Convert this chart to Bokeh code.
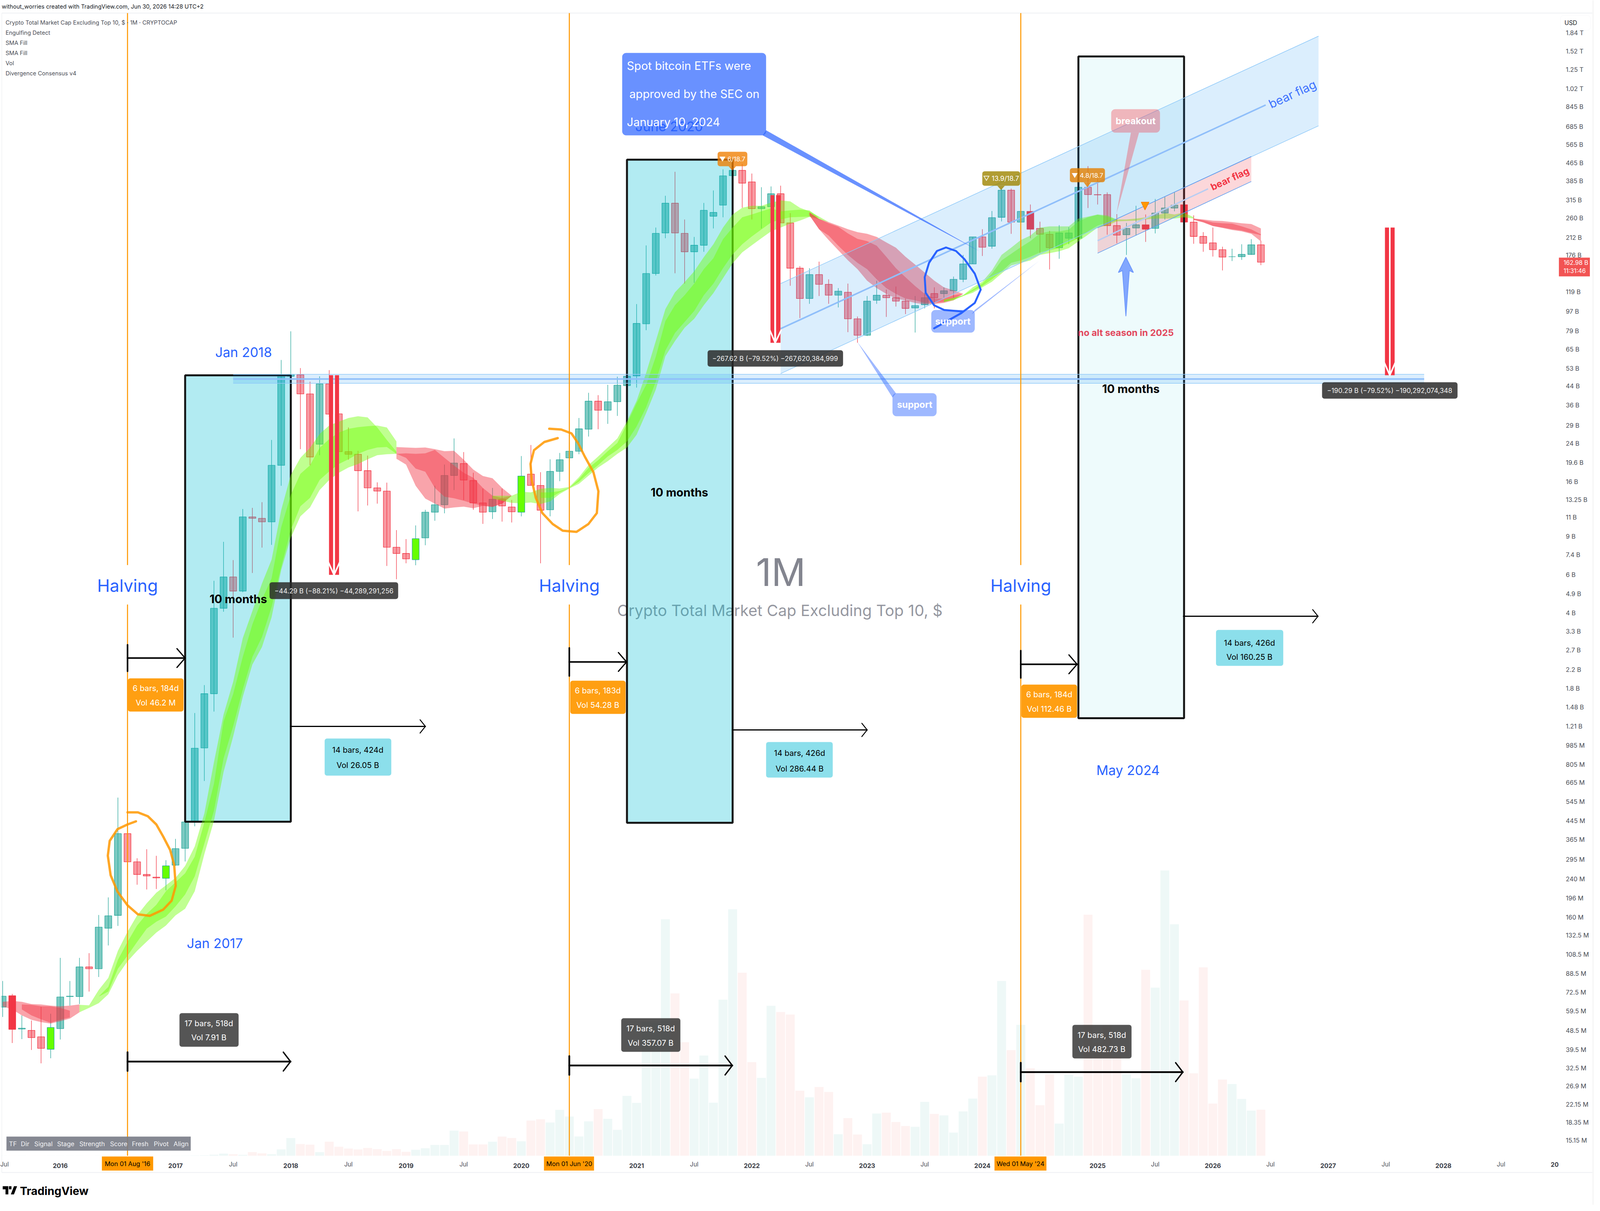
from bokeh.plotting import figure
from bokeh.embed import file_html
from bokeh.resources import INLINE
from bokeh.models import Range1d, LinearScale, FixedTicker, Label, BoxAnnotation
from bokeh.core.properties import value

# ---- monthly bars: index 0 = Jan 2016, values in billions of USD
month_index = list(range(-6, 126))
open_b = [.0620,.0699,.0492,.0485,.0453,.0397,.0494,.0693,.0693,.0948,.0930,.1427,.1635,.388,.288,.252,.245,.242,.278,.332,.439,.960,1.703,
          4.20,5.85,5.04,11.04,10.87,10.47,19.04,48.8,49.6,40.5,23.8,45.0,32.8,22.0,21.4,18.0,15.0,14.5,8.01,7.50,7.02,8.84,11.6,12.55,17.1,19.4,16.2,12.8,11.65,13.3,12.25,
          11.6,17.35,15.4,11.9,17.86,20.6,22.1,27.9,37.5,34.1,37.3,44.2,49.0,85.0,144.6,222,304,221,182,195,265,298,407,430,381,287,293,336,247,153,
          111,143,129,115,118.6,89.6,75.3,109,115,112,108,100.5,104,117,117,120.5,136,160,213,193,262,349,249,279,233,219,190,210,210,360,333,333,240,218,234,242,233,274,289,299,249,214,200,186,172.7,172.7,177,196]
high_b = [.0817,.0713,.0568,.0538,.0622,.0578,.1043,.0817,.1043,.1096,.1641,.1977,.568,.388,.299,.329,.307,.293,.367,.472,1.388,1.866,5.62,
          8.48,6.99,12.0,12.15,12.9,24.9,58.0,78.5,53.2,46.1,48.8,52.1,36.4,28.4,22.2,21.1,15.9,15.85,9.60,8.73,10.09,11.9,15.34,19.2,25.3,21.9,17.6,14.9,15.0,14.9,13.2,
          21.0,23.6,17.7,20.3,21.7,24.3,31.4,41.0,40.0,44.6,48.6,50.9,104.7,194.6,235,329,424,256,213,305,348,435,486,461,416,360,363,366,274,156.5,
          153,164,136,124,130,91.8,114,134,122,126,111,114,118,125,125,140,176,213,231,280,356,355,304,300,250,227,241,236,373,450,394,341,271,247,296,270,318,326,342,331,267.5,224,235,192,188,197,208,204.6]
low_b = [.0559,.0424,.0442,.0394,.0342,.0361,.0440,.0630,.0640,.0731,.0852,.1189,.1462,.251,.226,.215,.216,.213,.276,.289,.419,.677,1.41,
         4.05,3.08,4.98,6.10,7.98,8.21,15.34,34.2,22.6,19.04,21.2,31.8,21.9,20.2,11.7,12.45,12.7,6.57,5.71,6.76,6.62,8.18,10.6,11.46,14.66,13.2,11.9,10.25,10.8,10.5,10.4,
         11.1,15.4,6.76,11.1,16.1,19.7,21.4,25.8,27.9,29.5,32.1,36.7,43.3,79.4,141.6,210,145,130,131,182,233,262,367,290,256,233,256,247,127,90.3,
         105,114,105,101,77.8,69.6,74.6,105,91.4,102,94.2,77.5,100,100,112,112,132,160,174,188,251,220,233,210,180,151,169,197,189,289,300,218,199,176,216,202,221,256,279,156.5,198,182,173,149.4,165,167,176,158]
close_b = [.0696,.0490,.0496,.0449,.0401,.0500,.0690,.0696,.0948,.0930,.1444,.1628,.388,.288,.252,.248,.243,.276,.331,.439,.957,1.703,4.20,
           5.85,5.04,11.04,10.87,10.47,19.04,49.0,49.8,40.5,20.8,45.0,32.7,22.0,21.4,18.0,15.0,14.5,8.01,7.50,7.08,8.77,11.6,12.55,17.1,19.5,16.3,12.8,11.6,13.3,12.4,11.65,
           17.0,15.4,11.85,17.86,20.2,22.1,28.0,37.5,34.1,37.3,44.4,48.8,85.3,144.6,221,304,222,182,195,282,276,406,430,376,287,293,336,247,153,111,
           143,129,115,120,89.6,75.3,108,115,112,108,100,103,112,112,120.5,136,160,213,191,261,349,249,279,231,219,190,222,222,360,333,332,240,217,233,242,231,274,289,298,249,214,199,186,172,172.7,177,196,162.98]
volume_b = [.03,.03,.02,.02,.03,.03,.03,.02,.03,.03,.03,.05,.06,.05,.04,.03,.03,.03,.04,.05,.08,.10,.25,
            .51,.36,.22,.87,.58,.36,1.52,4.26,2.82,2.67,.87,3.39,2.17,1.73,1.52,1.88,1.59,1.16,1.59,.94,1.44,1.81,2.60,2.60,6.06,5.85,2.74,2.74,3.39,4.62,4.26,
            3.49,8.49,8.79,8.01,11.08,9.45,4.64,8.31,11.26,8.91,6.26,14.45,12.76,32.3,32.1,57.1,39.2,27.4,18.6,24.2,12.8,37.7,59.5,44.2,22.6,18.8,36.2,34.7,34.1,15.7,
            14.1,16.6,15.4,5.18,9.09,5.12,2.77,10.2,10.4,8.13,7.16,6.98,13.0,10.1,9.75,5.60,10.7,13.8,19.1,19.4,42.2,25.5,31.6,21.1,12.2,19.7,7.77,19.6,19.1,58.2,27.3,31.5,24.0,19.7,18.7,44.9,40.6,68.9,55.9,37.5,19.9,45.5,12.6,18.4,17.3,13.7,10.9,11.1]
engulf_down = [-5, 101, 113, 117]
engulf_up = [-1, 11, 37, 48]

# ---- SMA fills (outer and inner bands)
red1_m = list(range(-6, 3))
red1_otop = [.0656,.0662,.0656,.0640,.0638,.0630,.0625,.0630,.0638]
red1_obot = [.0625,.0605,.0568,.0542,.0529,.0521,.0534,.0549,.0587]
red1_im = list(range(-4, 2))
red1_itop = [.0638,.0635,.0625,.0625,.0615,.0597]
red1_ibot = [.0605,.0568,.0545,.0525,.0542,.0556]
green1_m = list(range(2, 36))
green1_otop = [.0635,.0632,.0743,.0844,.1124,.1374,.1635,.1858,.2077,.2246,.243,.276,.339,.480,.825,1.366,1.93,3.06,4.08,5.46,7.02,11.85,17.2,20.6,22.9,26.5,29.0,30.2,31.4,32.0,31.6,28.4,24.9,22.0]
green1_obot = [.0587,.0615,.0646,.0710,.0869,.1005,.1124,.1239,.1363,.1468,.1635,.1754,.211,.312,.444,.744,1.084,1.648,2.32,2.79,3.82,6.30,8.87,11.1,12.2,14.66,16.3,17.6,18.6,19.3,20.3,21.2,21.4,21.5]
green1_im = list(range(4, 36))
green1_itop = [.0693,.0768,.1021,.1235,.1468,.1661,.1827,.211,.232,.255,.304,.437,.657,1.269,1.697,2.51,3.54,4.61,5.76,9.88,13.9,17.4,19.04,22.9,25.1,26.9,28.0,28.5,28.8,29.0,28.4,24.5]
green1_ibot = [.0693,.0731,.0930,.1069,.1235,.1421,.1529,.1615,.1797,.204,.247,.349,.494,.859,1.206,1.78,2.51,3.10,4.26,6.49,9.60,12.35,13.5,16.3,17.86,19.3,20.3,21.5,22.4,23.0,23.1,21.5]
red2_m = list(range(35, 48))
red2_otop = [23.1,23.0,22.9,23.0,22.6,22.1,22.2,20.2,18.2,17.0,16.6,15.0,13.8]
red2_itop = [21.5,21.6,21.5,21.6,22.4,20.6,19.0,17.6,16.7,15.0,13.8,13.5,13.8]
red2_ibot = [21.5,20.6,18.4,17.8,15.0,13.66,13.44,13.1,12.7,12.45,12.3,12.7,13.8]
red2_obot = [20.4,19.2,15.34,13.4,12.7,12.05,12.2,12.3,12.1,12.4,12.25,12.7,13.8]
green2_m = list(range(45, 81))
green2_otop = [13.8,13.8,13.8,14.4,14.3,14.85,15.0,14.9,15.15,16.8,19.1,20.9,23.0,25.3,30.3,37.6,50.6,70.8,99.3,118.6,132,148,172,197,235,270,290,296,296,306,313,310,290,279,264,249]
green2_obot = [13.4,13.1,12.8,12.75,12.85,12.65,13.0,14.07,14.9,15.66,17.06,18.6,19.9,21.5,23.0,26.3,33.1,42.4,60.4,70.8,81.5,89.6,103.5,117.6,137.6,160.9,180.8,195,210,225.8,235,245,253,263,256,249]
green2_im = list(range(50, 80))
green2_itop = [14.3,14.3,14.5,15.0,16.45,18.5,20.1,22.1,24.1,29.5,36.7,44.6,60.0,87.4,103.5,115,130,151.4,170,208,235,262,270,279,288,279,282,284,282,261]
green2_ibot = [13.5,13.5,14.3,15.0,16.0,17.55,19.1,20.9,22.4,24.5,28.7,35.2,46.1,64.1,77.2,86.6,97.3,115,130,153,177,197,214,230.6,248,256,262,263,264,261]
red3_m = list(range(78, 95))
red3_otop = [276,257.5,249,240,231,224,220,213,201,190,172.7,159,146,134,125,121,116.6]
red3_itop = [276,257.5,246,237,221,208.6,203.7,194,172.7,153,139,126.7,116.6,111,111,115,116.6]
red3_ibot = [267.5,231,216,194,176,162,151.4,136,124,116.6,111,109,106,106,107,111,116.6]
red3_obot = [267.5,231,206,185,166.4,151.4,134,124,116.6,111,108.7,106,104.4,104.7,106,109,116.6]
green3_m = list(range(92, 119))
green3_otop = [110,112,115,125,132.5,149.4,176,190,206,216,235,238,238,238,258.6,264,270,267.5,256,256,258.6,262,266,274,270,275.5,262]
green3_obot = [107,109,114,118,125,132.5,144.6,157.5,162,166,176,179.3,183,189,203,218,235,240,251,252,253,256,258.6,258.6,258.6,262,258.6]
green3_im = list(range(92, 111))
green3_itop = [108.7,111,115,122,130,144.6,166,178,191,203.7,221,225.8,225.8,230,251,262,269,264,255]
green3_ibot = [107,110,114,120,126.7,136,147.6,162,166,172.7,180.8,185,189,199,210,225.8,240,248,253]
red4_m = list(range(118, 126))
red4_otop = [258.6,256,253,252,249,246,244,233]
red4_itop = [258.6,254,248,246,245,238,230.6,219]
red4_ibot = [255,249,239,235,231,228,222,217]
red4_obot = [255,248,239,234,229,225.8,220,203]

# ---- axis labels
price_ticks = [1840,1520,1250,1020,845,685,565,465,385,315,260,212,176,145,119,97,79,65,53,44,36,29,24,19.6,16,13.25,11,9,7.4,6,4.9,4,3.3,2.7,2.2,1.8,1.48,1.21,.985,.805,.665,.545,.445,.365,.295,.24,.196,.16,.1325,.1085,.0885,.0725,.0595,.0485,.0395,.0325,.0269,.02215,.01835,.01515]
price_labels = ["1.84 T","1.52 T","1.25 T","1.02 T","845 B","685 B","565 B","465 B","385 B","315 B","260 B","212 B","176 B","145 B","119 B","97 B","79 B","65 B","53 B","44 B","36 B","29 B","24 B","19.6 B","16 B","13.25 B","11 B","9 B","7.4 B","6 B","4.9 B","4 B","3.3 B","2.7 B","2.2 B","1.8 B","1.48 B","1.21 B","985 M","805 M","665 M","545 M","445 M","365 M","295 M","240 M","196 M","160 M","132.5 M","108.5 M","88.5 M","72.5 M","59.5 M","48.5 M","39.5 M","32.5 M","26.9 M","22.15 M","18.35 M","15.15 M"]
year_ticks = [0,12,24,36,48,60,72,84,96,108,120,132,144]
year_labels = ["2016","2017","2018","2019","2020","2021","2022","2023","2024","2025","2026","2027","2028"]
july_ticks = [-6,18,30,42,66,78,90,114,126,138,150]

# The window that is photographed is 4096 wide; the layout is read off the 5114-wide
# reference and squeezed horizontally so that all of it fits.
SX = 4096 / 5114
TS = 0.81          # text scale, so that texts keep their width relative to the marks
VOL_PX = 10.6      # volume scale: pixels per billion

def X(px): return (px - 202) / 30.7
def Y(py): return 1520 * 10 ** (-(py - 138) / 557.6)

p = figure(width=4080, height=3084, output_backend="svg", toolbar_location=None,
           x_range=Range1d(X(8 / SX), X(4088 / SX)), y_range=Range1d(Y(3092), Y(8)),
           y_axis_type="log", y_axis_location="right",
           min_border_left=0, min_border_right=0, min_border_top=0, min_border_bottom=0,
           background_fill_color="white", border_fill_color="white",
           extra_y_ranges={"vol": Range1d((2966 - 3092) / VOL_PX, (2966 - 8) / VOL_PX)},
           extra_y_scales={"vol": LinearScale()})
p.outline_line_color = None
p.grid.visible = False

ya = p.yaxis[0]
ya.ticker = FixedTicker(ticks=price_ticks)
ya.major_label_overrides = dict(zip(price_ticks, price_labels))
ya.major_tick_line_color = None; ya.minor_tick_line_color = None; ya.axis_line_color = None
ya.major_label_text_font = "Inter"; ya.major_label_text_font_size = "16px"
ya.major_label_text_color = "#4a4d56"; ya.major_label_standoff = -78

xa = p.xaxis[0]
xa.ticker = FixedTicker(ticks=year_ticks)
xa.major_label_overrides = dict(zip(year_ticks, year_labels))
xa.major_tick_line_color = None; xa.minor_tick_line_color = None; xa.axis_line_color = None
xa.major_label_text_font = "Inter"; xa.major_label_text_font_size = "16px"
xa.major_label_text_font_style = "bold"; xa.major_label_text_color = "#3a3d46"
xa.major_label_standoff = -113

def label(text, px, py, size, color="#000000", bold=False, align="center", baseline="middle", angle=0.0, alpha=1.0):
    p.add_layout(Label(x=X(px), y=Y(py), text=text, text_font="Inter", text_font_size=f"{size * TS:.1f}px",
                       text_color=color, text_alpha=alpha, text_align=align, text_baseline=baseline,
                       angle=angle, text_font_style="bold" if bold else "normal"))

def rbox(x0, x1, y0, y1, color, alpha=1.0, radius=8):
    p.quad(left=[X(x0)], right=[X(x1)], top=[Y(y0)], bottom=[Y(y1)], fill_color=color, fill_alpha=alpha,
           line_color=None, border_radius=radius)

def shape(pts, color, alpha=1.0, line=None, lw=1):
    p.patch(x=[X(a) for a, b in pts], y=[Y(b) for a, b in pts], fill_color=color, fill_alpha=alpha,
            line_color=line, line_width=lw)

def path(pts, color, lw=5, alpha=1.0):
    p.line(x=[X(a) for a, b in pts], y=[Y(b) for a, b in pts], line_color=color, line_width=lw,
           line_alpha=alpha, line_join="round", line_cap="round")

def band(m, top, bot, color, alpha):
    p.varea(x=m, y1=top, y2=bot, fill_color=color, fill_alpha=alpha)

def overlay_box(l, r, t, b, color, line=None, radius=0):
    p.add_layout(BoxAnnotation(left=X(l), right=X(r), top=Y(t), bottom=Y(b), fill_color=color, fill_alpha=1,
                               line_color=line, level="annotation", border_radius=radius))

# ---- pane borders
for l, r, t, b in ((15, 5099, 40, 42), (14, 16, 41, 3009), (15, 5099, 3008, 3010)):
    rbox(l, r, t, b, "#eef0f3", 1, 0)
rbox(5099, 5104, 8, 3092, "#f6f6f6", 1, 0)

# ---- watermark + text hidden behind the ETF note
for t, px, py, sz, col, al in (("1M", 2505, 1472, 120, "#787b86", .92),
                               ("Crypto Total Market Cap Excluding Top 10, $", 2502, 1570, 49, "#787b86", .8),
                               ("June 2020", 2148, 331, 42, "#2962ff", 1)):
    p.text(x=[X(px)], y=[Y(py)], text=[t], text_font=value("Inter"), text_font_size=value(f"{sz * TS:.1f}px"),
           text_color=col, text_align="center", text_baseline="middle", text_alpha=al)

# ---- volume
up = [c >= o for o, c in zip(open_b, close_b)]
p.vbar(x=month_index, top=volume_b, bottom=0, width=0.93, y_range_name="vol",
       fill_color=["#26a69a" if u else "#ef5350" for u in up], fill_alpha=0.08, line_color=None)

# ---- candles
wick = ["#f23645" if m in engulf_down else "#26a69a" if (u or m in engulf_up) else "#f23645" for m, u in zip(month_index, up)]
fill = ["#f23645" if m in engulf_down else "#66ff00" if m in engulf_up else ("#26a69a" if u else "#f23645") for m, u in zip(month_index, up)]
falpha = [1.0 if (m in engulf_down or m in engulf_up) else (0.6 if u else 0.5) for m, u in zip(month_index, up)]
p.segment(x0=month_index, x1=month_index, y0=low_b, y1=high_b, line_color=wick, line_width=1.3)
p.vbar(x=month_index, bottom=[min(o, c) for o, c in zip(open_b, close_b)], top=[max(o, c) for o, c in zip(open_b, close_b)],
       width=0.72, fill_color=fill, fill_alpha=falpha, line_color=wick, line_width=1.3)
rbox(9, 14, 41, 2966, "#ffffff", 1, 0)

# ---- 10-month rectangles (under the SMA fills, over the candles)
p.quad(left=[13, 59], right=[24, 70], top=[49.3, 482], bottom=[.44, .435], fill_color="#00bcd4", fill_alpha=.3,
       line_color="#141414", line_width=5)
p.quad(left=[106], right=[117], top=[1435], bottom=[1.315], fill_color="#00bcd4", fill_alpha=.067,
       line_color="#141414", line_width=5)

# ---- SMA fills
GREEN, RED = "#6dff00", "#f23645"
band(red1_m, red1_otop, red1_obot, RED, .45); band(red1_im, red1_itop, red1_ibot, RED, .45)
band(green1_m, green1_otop, green1_obot, GREEN, .43); band(green1_im, green1_itop, green1_ibot, GREEN, .43)
band(red2_m, red2_otop, red2_obot, RED, .45); band(red2_m, red2_itop, red2_ibot, RED, .45)
band(green2_m, green2_otop, green2_obot, GREEN, .43); band(green2_im, green2_itop, green2_ibot, GREEN, .43)
band(red3_m, red3_otop, red3_obot, RED, .45); band(red3_m, red3_itop, red3_ibot, RED, .45)
band(green3_m, green3_otop, green3_obot, GREEN, .43); band(green3_im, green3_itop, green3_ibot, GREEN, .43)
band(red4_m, red4_otop, red4_obot, RED, .45); band(red4_m, red4_itop, red4_ibot, RED, .45)

# ---- parallel channels
CH = "#2196f3"
p.patch(x=[18, 142, 142, 18], y=[49.8, 49.8, 45.3, 45.3], fill_color=CH, fill_alpha=.16, line_color=None)
p.segment(x0=[18, 18], x1=[142, 142], y0=[49.8, 45.3], y1=[49.8, 45.3], line_color="#90caf9", line_width=1.5)
p.segment(x0=[18], x1=[142], y0=[47.4], y1=[47.4], line_color="#90bffa", line_width=4)
p.patch(x=[75, 131, 131, 75], y=[130, 1778, 689, 50.2], fill_color=CH, fill_alpha=.16, line_color=None)
p.segment(x0=[75, 75], x1=[131, 131], y0=[130, 50.2], y1=[1778, 689], line_color="#90caf9", line_width=1.5)
p.segment(x0=[75], x1=[125.5], y0=[80.7], y1=[859], line_color="#90bffa", line_width=4)
p.patch(x=[108, 124, 124, 108], y=[234.5, 498.5, 382.5, 179.3], fill_color=RED, fill_alpha=.2, line_color=None)
p.segment(x0=[108, 108], x1=[124, 124], y0=[234.5, 179.3], y1=[498.5, 382.5], line_color="#5c9cf0", line_width=1.5)
p.segment(x0=[108], x1=[119.5], y0=[204.6], y1=[354], line_color="#b8cdf2", line_width=3.5)

# ---- halving lines
for m_h in (7, 53, 100):
    p.segment(x0=[m_h], x1=[m_h], y0=[Y(2966)], y1=[Y(41)], line_color="#ff9800", line_width=2.6)
    rbox(202 + 30.7 * m_h - 100, 202 + 30.7 * m_h + 100, 1454, 1555, "#ffffff", radius=0)
    label("Halving", 202 + 30.7 * m_h, 1507, 54, "#2962ff")

# ---- freehand circles
path([(417,2087),(450,2087),(482,2097),(509,2118),(531,2149),(553,2183),(566,2221),(571,2275),(558,2313),(531,2336),(488,2352),(450,2348),(417,2325),(385,2290),(363,2248),(354,2198),(360,2160),(385,2130),(417,2118),(444,2110)], "#ff9800", 6, .85)
path([(1765,1105),(1803,1107),(1836,1117),(1857,1142),(1879,1177),(1906,1216),(1922,1265),(1917,1321),(1890,1349),(1852,1369),(1808,1366),(1776,1349),(1743,1321),(1722,1282),(1709,1237),(1705,1195),(1716,1160),(1749,1139),(1792,1129)], "#ff9800", 6, .85)

# ---- measuring arrows
def arrow(x0, x1, py, lw, wx, wy, tick):
    path([(x0, py), (x1, py)], "#000000", lw)
    if tick:
        path([(x0, py - tick), (x0, py + tick)], "#000000", lw)
    path([(x1 - wx, py - wy), (x1, py), (x1 - wx, py + wy)], "#000000", lw * .8)
arrow(417, 601, 1692, 4, 26, 24, 34); arrow(1829, 2012, 1702, 4, 26, 24, 36); arrow(3272, 3452, 1708, 4, 26, 24, 35)
arrow(938, 1369, 1867, 3, 17, 17, 0); arrow(2350, 2781, 1876, 3, 17, 17, 0); arrow(3792, 4222, 1585, 3, 17, 17, 0)
arrow(417, 938, 2725, 4.5, 23, 24, 24); arrow(1829, 2350, 2735, 4.5, 23, 24, 24); arrow(3272, 3790, 2752, 4.5, 23, 24, 24)

# ---- red bold measure arrows
def bold_arrow(x0, x1, x2, x3, y0, y1, px):
    for a, b in ((x0, x1), (x2, x3)):
        p.quad(left=[X(a)], right=[X(b)], top=[Y(y0)], bottom=[Y(y1)], fill_color="#f23645", line_color=None)
    path([(x0 - 2, y1 - 32), ((x1 + x2) / 2, y1), (x3 + 2, y1 - 32)], "#ffffff", px)
bold_arrow(1061, 1074, 1080, 1093, 968, 1479, 4)
bold_arrow(2472, 2484, 2490, 2504, 507, 885, 4)
bold_arrow(4436, 4449, 4454, 4467, 590, 968, 4)

# ---- blue note + tails
NOTE = "#2962ff"
shape([(2447, 354), (2458, 341), (3141, 651)], NOTE, .7)
rbox(1998, 2458, 143, 354, NOTE, .7, 10)
shape([(2749, 882), (2873, 1014), (2862, 1025)], NOTE, .45)
rbox(2862, 3003, 1014, 1073, NOTE, .45, 10)
shape([(3331, 675), (3125, 801), (3115, 812)], NOTE, .45)
rbox(2986, 3125, 801, 859, NOTE, .45, 10)
path([(2995,848),(3082,809),(3125,783),(3144,749),(3125,708),(3092,671),(3065,650),(3033,641),(3004,650),(2979,680),(2965,717),(2968,757),(2995,789),(3027,801),(3087,805)], "#2962ff", 5)
shape([(3578, 554), (3624, 347), (3650, 347)], RED, .35)
rbox(3561, 3717, 287, 347, RED, .35, 10)
shape([(3608,666),(3632,705),(3619,700),(3608,817),(3597,700),(3584,705)], "#2962ff", .55, "#6c97fb", 2)
shape([(3657,525),(3682,525),(3669,545)], "#ff9800", 1, "#f57c00", 1.5)

# ---- price tags
shape([(2338, 433), (2362, 433), (2350, 444)], "#ef7d00", .78)
rbox(2303, 2398, 396, 433, "#ef7d00", .78, 6)
shape([(3197, 483), (3221, 483), (3209, 494)], "#9d8500", .8)
rbox(3149, 3270, 446, 483, "#9d8500", .8, 6)
shape([(3473, 474), (3497, 474), (3485, 487)], "#e58000", .8)
rbox(3429, 3541, 438, 474, "#e58000", .8, 6)

# ---- info boxes
ORANGE, CYAN, DARK = "#ff9800", "#5fd3e3", "#2a2a2a"
rbox(418, 596, 1744, 1829, ORANGE, .93, 6)
rbox(1832, 2009, 1750, 1835, ORANGE, .93, 6)
rbox(3274, 3452, 1760, 1845, ORANGE, .93, 6)
rbox(1047, 1260, 1898, 1993, CYAN, .72, 6)
rbox(2458, 2671, 1907, 1998, CYAN, .72, 6)
rbox(3896, 4111, 1620, 1712, CYAN, .72, 6)
rbox(583, 772, 2601, 2687, DARK, .8, 6)
rbox(1995, 2184, 2614, 2700, DARK, .8, 6)
rbox(3437, 3626, 2631, 2717, DARK, .8, 6)
rbox(871, 1282, 1498, 1541, DARK, .85, 6)
rbox(2271, 2704, 904, 946, DARK, .85, 6)
rbox(4235, 4668, 986, 1028, DARK, .85, 6)
rbox(30, 619, 2917, 2953, "#787b86", .9, 0)

# TradingView logo
for pts in ([(18,3044),(36,3044),(36,3065),(27,3065),(27,3052),(18,3052)], [(54,3044),(64,3044),(54,3065),(44,3065)], [(38,3044),(46,3044),(46,3052),(38,3052)]):
    shape(pts, "#000000")

# ---- texts
for t, px, py in (("Spot bitcoin ETFs were", 2013, 176), ("approved by the SEC on", 2021, 248), ("January 10, 2024", 2013, 320)):
    label(t, px, py, 36, "#ffffff", align="left")
label("Jan 2018", 788, 909, 42, "#2962ff"); label("Jan 2017", 696, 2422, 42, "#2962ff"); label("May 2024", 3615, 1979, 42, "#2962ff")
label("10 months", 771, 1541, 36, "#000000", True); label("10 months", 2181, 1268, 36, "#000000", True); label("10 months", 3624, 1003, 36, "#000000", True)
label("support", 2933, 1043, 29, "#ffffff", True); label("support", 3055, 830, 29, "#ffffff", True)
label("breakout", 3639, 317, 29, "#ffffff", True)
label("no alt season in 2025", 3608, 859, 29, "#e2475c", True)
label("bear flag", 4140, 248, 38, "#2962ff", angle=0.43, alpha=.9)
label("bear flag", 3940, 465, 30, "#f23645", True, angle=0.436)
label("\u25bc 6/18.7", 2350, 414, 20, "#ffffff"); label("\u25bd 13.9/18.7", 3209, 464, 21, "#ffffff"); label("\u25bc 4.8/18.7", 3485, 456, 20, "#ffffff")
label("\u221244.29 B (\u221288.21%) \u221244,289,291,256", 1077, 1520, 21, "#f0f0f0")
label("\u2212267.62 B (\u221279.52%) \u2212267,620,384,999", 2487, 925, 21, "#f0f0f0")
label("\u2212190.29 B (\u221279.52%) \u2212190,292,074,348", 4451, 1007, 21, "#f0f0f0")
for cx, a, b, ya1, yb1, col in ((507, "6 bars, 184d", "Vol 46.2 M", 1769, 1806, "#ffffff"), (1920, "6 bars, 183d", "Vol 54.28 B", 1775, 1812, "#ffffff"),
                                (3363, "6 bars, 184d", "Vol 112.46 B", 1785, 1822, "#ffffff"),
                                (1153, "14 bars, 424d", "Vol 26.05 B", 1927, 1966, "#000000"), (2565, "14 bars, 426d", "Vol 286.44 B", 1935, 1975, "#000000"),
                                (4003, "14 bars, 426d", "Vol 160.25 B", 1653, 1689, "#000000"),
                                (677, "17 bars, 518d", "Vol 7.91 B", 2627, 2663, "#ffffff"), (2089, "17 bars, 518d", "Vol 357.07 B", 2640, 2677, "#ffffff"),
                                (3531, "17 bars, 518d", "Vol 482.73 B", 2657, 2693, "#ffffff")):
    label(a, cx, ya1, 25, col); label(b, cx, yb1, 25, col)
for t, px in (("TF", 38), ("Dir", 76), ("Signal", 119), ("Stage", 192), ("Strength", 263), ("Score", 361), ("Fresh", 431), ("Pivot", 501), ("Align", 564)):
    label(t, px, 2935, 20, "#f4f4f6", align="left")

# header, legend
label("without_worries created with TradingView.com, Jun 30, 2026 14:28 UTC+2", 15, 24, 18, "#131722", align="left")
for t, py in (("Crypto Total Market Cap Excluding Top 10, $ \u00b7 1M \u00b7 CRYPTOCAP", 65), ("Engulfing Detect", 91), ("SMA Fill", 117), ("SMA Fill", 143), ("Vol", 169), ("Divergence Consensus v4", 195)):
    label(t, 27, py, 18, "#4a4d56", align="left")

# time axis extras
for m_j in july_ticks:
    label("Jul", 202 + 30.7 * m_j + (6 if m_j < 0 else 0), 2988, 19, "#4a4d56")
label("20", 4966, 2988, 19, "#3a3d46", True, align="left")
for cx, x0, x1, t in ((417, 335, 499, "Mon 01 Aug '16"), (1829, 1748, 1908, "Mon 01 Jun '20"), (3271, 3188, 3354, "Wed 01 May '24")):
    overlay_box(x0, x1, 2968, 3004, "#ff9800")
    label(t, cx, 2986, 20, "#000000")

# price-axis tags
overlay_box(4997, 5093, 47, 85, "#ffffff", "#e6e8ee", 8)
label("USD", 5030, 66, 19, "#131722")
overlay_box(4992, 5091, 667, 715, "#f25353")
label("162.98 B", 5007, 680, 19, "#ffffff", align="left"); label("11:31:46", 5007, 701, 19, "#ffffff", align="left")

label("TradingView", 73, 3056, 35, "#000000", True, align="left")

open("out.html", "w").write(file_html(p, INLINE))
